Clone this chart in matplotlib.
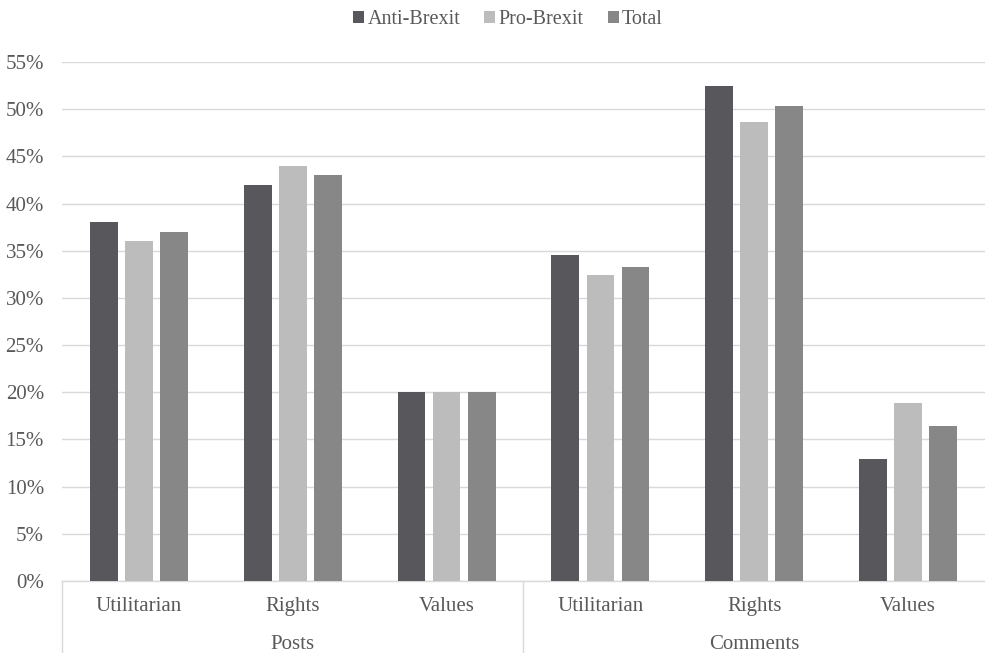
import numpy as np
import matplotlib
matplotlib.use('Agg')
import matplotlib.pyplot as plt
from matplotlib.ticker import PercentFormatter
from matplotlib.transforms import blended_transform_factory

groups = ['Posts', 'Comments']
categories = ['Utilitarian', 'Rights', 'Values', 'Utilitarian', 'Rights', 'Values']
anti_brexit = [38.0, 42.0, 20.0, 34.5, 52.5, 12.9]
pro_brexit = [36.0, 44.0, 20.0, 32.4, 48.6, 18.9]
total = [37.0, 43.0, 20.0, 33.3, 50.3, 16.4]

plt.rcParams['font.family'] = ['Liberation Serif', 'DejaVu Serif']
text_color = '#595959'
fs = 15

fig = plt.figure(figsize=(9.85, 6.53), dpi=100)
ax = fig.add_axes([62 / 985, 1 - 581 / 653, 923 / 985, (581 - 62) / 653])

x = np.arange(len(categories))
w = 0.18
off = 0.228
series = [
    ('Anti-Brexit', anti_brexit, '#58575c'),
    ('Pro-Brexit', pro_brexit, '#bcbcbc'),
    ('Total', total, '#878787'),
]
for i, (name, vals, col) in enumerate(series):
    ax.bar(x + (i - 1) * off, vals, w, color=col, label=name, zorder=3)

ax.set_xlim(-0.5, len(categories) - 0.5)
ax.set_ylim(0, 55)
ax.set_yticks(np.arange(0, 56, 5))
ax.yaxis.set_major_formatter(PercentFormatter(decimals=0))
ax.tick_params(axis='y', length=0, pad=13, labelsize=fs, labelcolor=text_color)
ax.set_xticks([])
ax.grid(axis='y', color='#d9d9d9', linewidth=1, zorder=0)
for s in ['top', 'right', 'left']:
    ax.spines[s].set_visible(False)
ax.spines['bottom'].set_color('#d9d9d9')
ax.spines['bottom'].set_linewidth(1)

# two-level category axis
tr = blended_transform_factory(ax.transData, ax.transAxes)
for xi, c in zip(x, categories):
    ax.text(xi, -0.050, c, transform=tr, ha='center', va='center',
            fontsize=fs, color=text_color)
n = len(categories) // len(groups)
for gi, g in enumerate(groups):
    ax.text(gi * n + (n - 1) / 2, -0.123, g, transform=tr, ha='center', va='center',
            fontsize=fs, color=text_color)
# group dividers (right edge falls off the canvas)
for b in [-0.5, n - 0.5]:
    ax.plot([b, b], [0, -0.14], transform=tr, color='#d9d9d9', linewidth=1, clip_on=False)

leg = fig.legend(loc='center', bbox_to_anchor=(508 / 985, 1 - 20 / 653), ncol=3, frameon=False,
                 fontsize=14.5, handlelength=0.55, handleheight=0.55, handletextpad=0.15,
                 columnspacing=1.2, borderpad=0)
for t in leg.get_texts():
    t.set_color(text_color)

fig.savefig('out.png', dpi=100)
